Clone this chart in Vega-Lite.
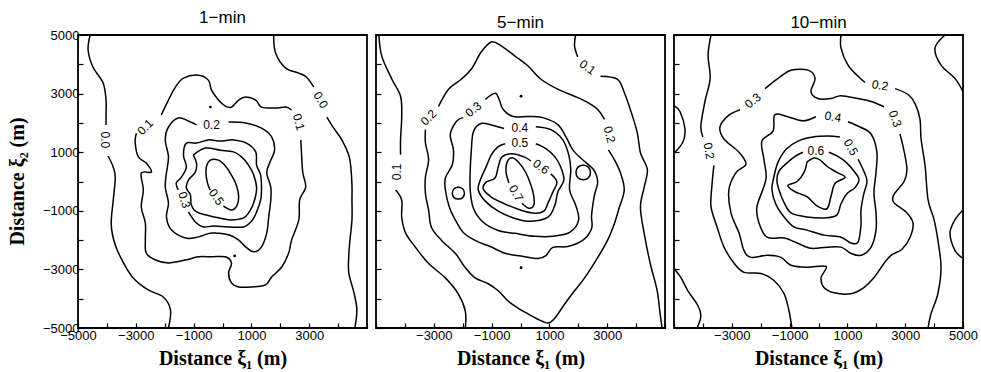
{
"$schema": "https://vega.github.io/schema/vega-lite/v6.json",
"padding": {"left": 6, "top": 8, "right": 0, "bottom": 0},
"spacing": 9,
"bounds": "flush",
"config": {
  "view": {"stroke": "black", "strokeWidth": 1.8},
  "axis": {"domain": false, "grid": false, "tickSize": -5, "tickColor": "black", "tickWidth": 1.2, "labelFont": "Liberation Sans", "labelFontSize": 13, "labelColor": "black", "labelPadding": 6, "labelFlush": false, "labelOverlap": false, "labelBound": false, "titleFont": "Liberation Serif", "titleFontSize": 20, "titleFontWeight": "bold", "titleColor": "black", "titlePadding": 6},
  "title": {"font": "Liberation Sans", "fontSize": 17, "fontWeight": "normal", "color": "black", "offset": 2}
},
"datasets": {
"lines": [
{"p":1,"id":"a","x":-4580,"y":5000},{"p":1,"id":"a","x":-4650,"y":4480},{"p":1,"id":"a","x":-4480,"y":3900},{"p":1,"id":"a","x":-4130,"y":3360},{"p":1,"id":"a","x":-4030,"y":2780},{"p":1,"id":"a","x":-4030,"y":2270},{"p":1,"id":"a","x":-4030,"y":1930},
{"p":1,"id":"b","x":-3960,"y":870},{"p":1,"id":"b","x":-3780,"y":490},{"p":1,"id":"b","x":-3710,"y":120},{"p":1,"id":"b","x":-3780,"y":-630},{"p":1,"id":"b","x":-3850,"y":-1480},{"p":1,"id":"b","x":-3710,"y":-2170},{"p":1,"id":"b","x":-3440,"y":-2750},{"p":1,"id":"b","x":-3090,"y":-3290},{"p":1,"id":"b","x":-2570,"y":-3700},{"p":1,"id":"b","x":-2050,"y":-3940},{"p":1,"id":"b","x":-1800,"y":-4380},{"p":1,"id":"b","x":-1870,"y":-5000},
{"p":1,"id":"c","x":1770,"y":5000},{"p":1,"id":"c","x":1840,"y":4380},{"p":1,"id":"c","x":2190,"y":3870},{"p":1,"id":"c","x":2640,"y":3700},{"p":1,"id":"c","x":2910,"y":3560},{"p":1,"id":"c","x":3160,"y":3220},
{"p":1,"id":"d","x":3610,"y":2200},{"p":1,"id":"d","x":3850,"y":1820},{"p":1,"id":"d","x":4130,"y":1420},{"p":1,"id":"d","x":4370,"y":900},{"p":1,"id":"d","x":4440,"y":490},{"p":1,"id":"d","x":4480,"y":-120},{"p":1,"id":"d","x":4480,"y":-630},{"p":1,"id":"d","x":4480,"y":-1310},{"p":1,"id":"d","x":4410,"y":-2000},{"p":1,"id":"d","x":4370,"y":-2510},{"p":1,"id":"d","x":4370,"y":-3120},{"p":1,"id":"d","x":4550,"y":-3800},{"p":1,"id":"d","x":4650,"y":-4380},{"p":1,"id":"d","x":4580,"y":-5000},
{"p":1,"id":"e","x":-2120,"y":2270},{"p":1,"id":"e","x":-1870,"y":2780},{"p":1,"id":"e","x":-1630,"y":3220},{"p":1,"id":"e","x":-1350,"y":3530},{"p":1,"id":"e","x":-830,"y":3630},{"p":1,"id":"e","x":-490,"y":3460},{"p":1,"id":"e","x":-380,"y":3120},{"p":1,"id":"e","x":-140,"y":2780},{"p":1,"id":"e","x":100,"y":2570},{"p":1,"id":"e","x":310,"y":2540},{"p":1,"id":"e","x":560,"y":2780},{"p":1,"id":"e","x":800,"y":2880},{"p":1,"id":"e","x":1150,"y":2780},{"p":1,"id":"e","x":1350,"y":2540},{"p":1,"id":"e","x":1840,"y":2510},{"p":1,"id":"e","x":2190,"y":2540},{"p":1,"id":"e","x":2390,"y":2440},
{"p":1,"id":"f","x":2710,"y":1420},{"p":1,"id":"f","x":2740,"y":840},{"p":1,"id":"f","x":2780,"y":290},{"p":1,"id":"f","x":2880,"y":-190},{"p":1,"id":"f","x":2670,"y":-630},{"p":1,"id":"f","x":2640,"y":-1310},{"p":1,"id":"f","x":2390,"y":-2000},{"p":1,"id":"f","x":2290,"y":-2440},{"p":1,"id":"f","x":2050,"y":-2920},{"p":1,"id":"f","x":1700,"y":-3260},{"p":1,"id":"f","x":1490,"y":-3530},{"p":1,"id":"f","x":1010,"y":-3600},{"p":1,"id":"f","x":560,"y":-3600},{"p":1,"id":"f","x":310,"y":-3460},{"p":1,"id":"f","x":210,"y":-3120},{"p":1,"id":"f","x":310,"y":-2780},{"p":1,"id":"f","x":100,"y":-2570},{"p":1,"id":"f","x":-380,"y":-2570},{"p":1,"id":"f","x":-830,"y":-2570},{"p":1,"id":"f","x":-1280,"y":-2680},{"p":1,"id":"f","x":-1870,"y":-2780},{"p":1,"id":"f","x":-2320,"y":-2680},{"p":1,"id":"f","x":-2640,"y":-2440},{"p":1,"id":"f","x":-2670,"y":-2000},{"p":1,"id":"f","x":-2670,"y":-1420},{"p":1,"id":"f","x":-2810,"y":-870},{"p":1,"id":"f","x":-2740,"y":-290},{"p":1,"id":"f","x":-2810,"y":290},{"p":1,"id":"f","x":-2460,"y":320},{"p":1,"id":"f","x":-2640,"y":630},{"p":1,"id":"f","x":-2910,"y":840},{"p":1,"id":"f","x":-3020,"y":1310},{"p":1,"id":"f","x":-2980,"y":1650},
{"p":1,"id":"g","x":210,"y":2030},{"p":1,"id":"g","x":800,"y":2000},{"p":1,"id":"g","x":1350,"y":1820},{"p":1,"id":"g","x":1700,"y":1520},{"p":1,"id":"g","x":1800,"y":1070},{"p":1,"id":"g","x":1630,"y":630},{"p":1,"id":"g","x":1530,"y":290},{"p":1,"id":"g","x":1670,"y":-190},{"p":1,"id":"g","x":1670,"y":-630},{"p":1,"id":"g","x":1600,"y":-1210},{"p":1,"id":"g","x":1530,"y":-1760},{"p":1,"id":"g","x":1350,"y":-2230},{"p":1,"id":"g","x":1080,"y":-2400},{"p":1,"id":"g","x":800,"y":-2230},{"p":1,"id":"g","x":560,"y":-2000},{"p":1,"id":"g","x":210,"y":-1820},{"p":1,"id":"g","x":-380,"y":-1760},{"p":1,"id":"g","x":-830,"y":-1890},{"p":1,"id":"g","x":-1280,"y":-1930},{"p":1,"id":"g","x":-1770,"y":-1650},{"p":1,"id":"g","x":-1940,"y":-1210},{"p":1,"id":"g","x":-1870,"y":-730},{"p":1,"id":"g","x":-1980,"y":-190},{"p":1,"id":"g","x":-1940,"y":290},{"p":1,"id":"g","x":-1870,"y":840},{"p":1,"id":"g","x":-1980,"y":1420},{"p":1,"id":"g","x":-1870,"y":1860},{"p":1,"id":"g","x":-1530,"y":2170},{"p":1,"id":"g","x":-1110,"y":2030},{"p":1,"id":"g","x":-900,"y":1930},
{"p":1,"id":"h","x":-1180,"y":-1040},{"p":1,"id":"h","x":-940,"y":-1380},{"p":1,"id":"h","x":-660,"y":-1550},{"p":1,"id":"h","x":-310,"y":-1520},{"p":1,"id":"h","x":210,"y":-1550},{"p":1,"id":"h","x":730,"y":-1550},{"p":1,"id":"h","x":1010,"y":-1350},{"p":1,"id":"h","x":1180,"y":-1040},{"p":1,"id":"h","x":1320,"y":-630},{"p":1,"id":"h","x":1350,"y":-220},{"p":1,"id":"h","x":1320,"y":220},{"p":1,"id":"h","x":1180,"y":560},{"p":1,"id":"h","x":1150,"y":1010},{"p":1,"id":"h","x":830,"y":1310},{"p":1,"id":"h","x":380,"y":1420},{"p":1,"id":"h","x":-70,"y":1380},{"p":1,"id":"h","x":-490,"y":1420},{"p":1,"id":"h","x":-900,"y":1310},{"p":1,"id":"h","x":-1250,"y":1310},{"p":1,"id":"h","x":-1350,"y":900},{"p":1,"id":"h","x":-1250,"y":490},{"p":1,"id":"h","x":-1420,"y":150},{"p":1,"id":"h","x":-1600,"y":-50},{"p":1,"id":"h","x":-1530,"y":-290},
{"p":1,"id":"i","x":-1010,"y":900},{"p":1,"id":"i","x":-590,"y":1140},{"p":1,"id":"i","x":-70,"y":1070},{"p":1,"id":"i","x":380,"y":1010},{"p":1,"id":"i","x":660,"y":840},{"p":1,"id":"i","x":900,"y":560},{"p":1,"id":"i","x":1080,"y":220},{"p":1,"id":"i","x":1180,"y":-220},{"p":1,"id":"i","x":1110,"y":-630},{"p":1,"id":"i","x":970,"y":-970},{"p":1,"id":"i","x":730,"y":-1240},{"p":1,"id":"i","x":280,"y":-1310},{"p":1,"id":"i","x":-140,"y":-1240},{"p":1,"id":"i","x":-560,"y":-1140},{"p":1,"id":"i","x":-900,"y":-1040},{"p":1,"id":"i","x":-1080,"y":-800},{"p":1,"id":"i","x":-1110,"y":-460},{"p":1,"id":"i","x":-1250,"y":-220},{"p":1,"id":"i","x":-1180,"y":50},{"p":1,"id":"i","x":-940,"y":320},{"p":1,"id":"i","x":-900,"y":630},{"p":1,"id":"i","x":-1010,"y":900},
{"p":1,"id":"j","x":30,"y":-840},{"p":1,"id":"j","x":310,"y":-970},{"p":1,"id":"j","x":490,"y":-840},{"p":1,"id":"j","x":560,"y":-530},{"p":1,"id":"j","x":490,"y":-150},{"p":1,"id":"j","x":310,"y":220},{"p":1,"id":"j","x":100,"y":530},{"p":1,"id":"j","x":-140,"y":730},{"p":1,"id":"j","x":-420,"y":730},{"p":1,"id":"j","x":-560,"y":490},{"p":1,"id":"j","x":-560,"y":150},{"p":1,"id":"j","x":-490,"y":-150},{"p":1,"id":"j","x":-420,"y":-290},

{"p":2,"id":"a","x":-4900,"y":5000},{"p":2,"id":"a","x":-4800,"y":4280},{"p":2,"id":"a","x":-4450,"y":3490},{"p":2,"id":"a","x":-4150,"y":2910},{"p":2,"id":"a","x":-4110,"y":2220},{"p":2,"id":"a","x":-4150,"y":1430},{"p":2,"id":"a","x":-4150,"y":910},
{"p":2,"id":"b","x":-4320,"y":-290},{"p":2,"id":"b","x":-4110,"y":-640},{"p":2,"id":"b","x":-4110,"y":-1220},{"p":2,"id":"b","x":-3970,"y":-1770},{"p":2,"id":"b","x":-3630,"y":-2250},{"p":2,"id":"b","x":-3180,"y":-2800},{"p":2,"id":"b","x":-2600,"y":-3290},{"p":2,"id":"b","x":-2150,"y":-3840},{"p":2,"id":"b","x":-1910,"y":-4420},{"p":2,"id":"b","x":-1910,"y":-5000},
{"p":2,"id":"c","x":1910,"y":5000},{"p":2,"id":"c","x":1870,"y":4630},{"p":2,"id":"c","x":1980,"y":4250},
{"p":2,"id":"d","x":2770,"y":3590},{"p":2,"id":"d","x":3350,"y":3490},{"p":2,"id":"d","x":3590,"y":3040},{"p":2,"id":"d","x":3800,"y":2460},{"p":2,"id":"d","x":4040,"y":1670},{"p":2,"id":"d","x":4150,"y":980},{"p":2,"id":"d","x":4390,"y":400},{"p":2,"id":"d","x":4280,"y":-190},{"p":2,"id":"d","x":4150,"y":-880},{"p":2,"id":"d","x":4280,"y":-1770},{"p":2,"id":"d","x":4490,"y":-2800},{"p":2,"id":"d","x":4730,"y":-3730},{"p":2,"id":"d","x":4830,"y":-4520},{"p":2,"id":"d","x":4900,"y":-5000},
{"p":2,"id":"e","x":-2840,"y":2560},{"p":2,"id":"e","x":-2490,"y":3150},{"p":2,"id":"e","x":-2050,"y":3490},{"p":2,"id":"e","x":-1700,"y":3840},{"p":2,"id":"e","x":-1360,"y":4420},{"p":2,"id":"e","x":-1010,"y":4760},{"p":2,"id":"e","x":-670,"y":4630},{"p":2,"id":"e","x":-190,"y":4280},{"p":2,"id":"e","x":260,"y":3940},{"p":2,"id":"e","x":710,"y":3490},{"p":2,"id":"e","x":1290,"y":3150},{"p":2,"id":"e","x":1870,"y":2910},{"p":2,"id":"e","x":2320,"y":2700},{"p":2,"id":"e","x":2670,"y":2460},{"p":2,"id":"e","x":2910,"y":2120},
{"p":2,"id":"f","x":3040,"y":1080},{"p":2,"id":"f","x":3250,"y":740},{"p":2,"id":"f","x":3460,"y":290},{"p":2,"id":"f","x":3590,"y":-290},{"p":2,"id":"f","x":3420,"y":-880},{"p":2,"id":"f","x":3250,"y":-1430},{"p":2,"id":"f","x":3010,"y":-2010},{"p":2,"id":"f","x":2670,"y":-2600},{"p":2,"id":"f","x":2220,"y":-3290},{"p":2,"id":"f","x":1870,"y":-3730},{"p":2,"id":"f","x":1530,"y":-4180},{"p":2,"id":"f","x":1190,"y":-4660},{"p":2,"id":"f","x":950,"y":-4830},{"p":2,"id":"f","x":600,"y":-4700},{"p":2,"id":"f","x":260,"y":-4520},{"p":2,"id":"f","x":-90,"y":-4320},{"p":2,"id":"f","x":-430,"y":-4080},{"p":2,"id":"f","x":-770,"y":-3730},{"p":2,"id":"f","x":-1120,"y":-3490},{"p":2,"id":"f","x":-1570,"y":-3290},{"p":2,"id":"f","x":-1910,"y":-2940},{"p":2,"id":"f","x":-2250,"y":-2460},{"p":2,"id":"f","x":-2730,"y":-2010},{"p":2,"id":"f","x":-3080,"y":-1570},{"p":2,"id":"f","x":-3180,"y":-980},{"p":2,"id":"f","x":-3290,"y":-400},{"p":2,"id":"f","x":-3290,"y":150},{"p":2,"id":"f","x":-3180,"y":740},{"p":2,"id":"f","x":-3290,"y":1320},{"p":2,"id":"f","x":-3290,"y":1770},
{"p":2,"id":"g","x":-1220,"y":2800},{"p":2,"id":"g","x":-880,"y":3010},{"p":2,"id":"g","x":-740,"y":2800},{"p":2,"id":"g","x":-600,"y":2460},{"p":2,"id":"g","x":-260,"y":2220},{"p":2,"id":"g","x":260,"y":2220},{"p":2,"id":"g","x":770,"y":2180},{"p":2,"id":"g","x":1290,"y":1940},{"p":2,"id":"g","x":1570,"y":1530},{"p":2,"id":"g","x":1810,"y":1080},{"p":2,"id":"g","x":2150,"y":740},{"p":2,"id":"g","x":2530,"y":400},{"p":2,"id":"g","x":2670,"y":-20},{"p":2,"id":"g","x":2560,"y":-460},{"p":2,"id":"g","x":2460,"y":-1150},{"p":2,"id":"g","x":2460,"y":-1600},{"p":2,"id":"g","x":2150,"y":-2010},{"p":2,"id":"g","x":1630,"y":-2220},{"p":2,"id":"g","x":1120,"y":-2250},{"p":2,"id":"g","x":880,"y":-2530},{"p":2,"id":"g","x":600,"y":-2630},{"p":2,"id":"g","x":90,"y":-2560},{"p":2,"id":"g","x":-500,"y":-2460},{"p":2,"id":"g","x":-1050,"y":-2220},{"p":2,"id":"g","x":-1570,"y":-2010},{"p":2,"id":"g","x":-1980,"y":-1740},{"p":2,"id":"g","x":-2250,"y":-1320},{"p":2,"id":"g","x":-2460,"y":-880},{"p":2,"id":"g","x":-2600,"y":-290},{"p":2,"id":"g","x":-2600,"y":120},{"p":2,"id":"g","x":-2360,"y":570},{"p":2,"id":"g","x":-2320,"y":1080},{"p":2,"id":"g","x":-2430,"y":1600},{"p":2,"id":"g","x":-2220,"y":2050},{"p":2,"id":"g","x":-1980,"y":2180},
{"p":2,"id":"h","x":530,"y":1870},{"p":2,"id":"h","x":1050,"y":1770},{"p":2,"id":"h","x":1460,"y":1430},{"p":2,"id":"h","x":1670,"y":910},{"p":2,"id":"h","x":1740,"y":400},{"p":2,"id":"h","x":1700,"y":-290},{"p":2,"id":"h","x":1910,"y":-810},{"p":2,"id":"h","x":2010,"y":-1320},{"p":2,"id":"h","x":1700,"y":-1740},{"p":2,"id":"h","x":1120,"y":-1870},{"p":2,"id":"h","x":500,"y":-1870},{"p":2,"id":"h","x":-190,"y":-1770},{"p":2,"id":"h","x":-770,"y":-1670},{"p":2,"id":"h","x":-1290,"y":-1390},{"p":2,"id":"h","x":-1630,"y":-910},{"p":2,"id":"h","x":-1740,"y":-290},{"p":2,"id":"h","x":-1740,"y":400},{"p":2,"id":"h","x":-1700,"y":1080},{"p":2,"id":"h","x":-1630,"y":1700},{"p":2,"id":"h","x":-1360,"y":1980},{"p":2,"id":"h","x":-950,"y":1910},{"p":2,"id":"h","x":-570,"y":1810},
{"p":2,"id":"i","x":530,"y":1290},{"p":2,"id":"i","x":880,"y":1120},{"p":2,"id":"i","x":1190,"y":840},{"p":2,"id":"i","x":1390,"y":500},{"p":2,"id":"i","x":1500,"y":50},{"p":2,"id":"i","x":1290,"y":-360},{"p":2,"id":"i","x":1190,"y":-810},{"p":2,"id":"i","x":950,"y":-1220},{"p":2,"id":"i","x":360,"y":-1360},{"p":2,"id":"i","x":-190,"y":-1260},{"p":2,"id":"i","x":-770,"y":-1010},{"p":2,"id":"i","x":-1220,"y":-670},{"p":2,"id":"i","x":-1460,"y":-290},{"p":2,"id":"i","x":-1390,"y":50},{"p":2,"id":"i","x":-1190,"y":500},{"p":2,"id":"i","x":-1010,"y":910},{"p":2,"id":"i","x":-770,"y":1190},{"p":2,"id":"i","x":-530,"y":1290},
{"p":2,"id":"j","x":1050,"y":260},{"p":2,"id":"j","x":1260,"y":-20},{"p":2,"id":"j","x":1120,"y":-360},{"p":2,"id":"j","x":950,"y":-740},{"p":2,"id":"j","x":810,"y":-1010},{"p":2,"id":"j","x":500,"y":-1080},{"p":2,"id":"j","x":20,"y":-980},{"p":2,"id":"j","x":-530,"y":-770},{"p":2,"id":"j","x":-1010,"y":-530},{"p":2,"id":"j","x":-1290,"y":-260},{"p":2,"id":"j","x":-1190,"y":-20},{"p":2,"id":"j","x":-880,"y":120},{"p":2,"id":"j","x":-770,"y":500},{"p":2,"id":"j","x":-640,"y":840},{"p":2,"id":"j","x":-290,"y":950},{"p":2,"id":"j","x":120,"y":840},{"p":2,"id":"j","x":360,"y":700},
{"p":2,"id":"k","x":50,"y":-740},{"p":2,"id":"k","x":290,"y":-910},{"p":2,"id":"k","x":460,"y":-810},{"p":2,"id":"k","x":460,"y":-500},{"p":2,"id":"k","x":360,"y":-120},{"p":2,"id":"k","x":190,"y":290},{"p":2,"id":"k","x":-50,"y":640},{"p":2,"id":"k","x":-290,"y":810},{"p":2,"id":"k","x":-460,"y":670},{"p":2,"id":"k","x":-500,"y":330},{"p":2,"id":"k","x":-400,"y":-50},
{"p":2,"id":"l","x":-2150,"y":-190},{"p":2,"id":"l","x":-2000,"y":-250},{"p":2,"id":"l","x":-1940,"y":-400},{"p":2,"id":"l","x":-2000,"y":-550},{"p":2,"id":"l","x":-2150,"y":-600},{"p":2,"id":"l","x":-2300,"y":-550},{"p":2,"id":"l","x":-2360,"y":-400},{"p":2,"id":"l","x":-2300,"y":-250},{"p":2,"id":"l","x":-2150,"y":-190},
{"p":2,"id":"m","x":2170,"y":560},{"p":2,"id":"m","x":2350,"y":490},{"p":2,"id":"m","x":2420,"y":310},{"p":2,"id":"m","x":2350,"y":130},{"p":2,"id":"m","x":2170,"y":60},{"p":2,"id":"m","x":1990,"y":130},{"p":2,"id":"m","x":1920,"y":310},{"p":2,"id":"m","x":1990,"y":490},{"p":2,"id":"m","x":2170,"y":560},

{"p":3,"id":"a","x":-3720,"y":5000},{"p":3,"id":"a","x":-3820,"y":4310},{"p":3,"id":"a","x":-3750,"y":3520},{"p":3,"id":"a","x":-3930,"y":2730},{"p":3,"id":"a","x":-4070,"y":1900},{"p":3,"id":"a","x":-4000,"y":1520},
{"p":3,"id":"b","x":-3620,"y":550},{"p":3,"id":"b","x":-3690,"y":-170},{"p":3,"id":"b","x":-3720,"y":-860},{"p":3,"id":"b","x":-3510,"y":-1550},{"p":3,"id":"b","x":-3270,"y":-2240},{"p":3,"id":"b","x":-2920,"y":-2790},{"p":3,"id":"b","x":-2580,"y":-3100},{"p":3,"id":"b","x":-1990,"y":-3140},{"p":3,"id":"b","x":-1540,"y":-3380},{"p":3,"id":"b","x":-1190,"y":-3830},{"p":3,"id":"b","x":-1020,"y":-4420},{"p":3,"id":"b","x":-920,"y":-5000},
{"p":3,"id":"c","x":780,"y":5000},{"p":3,"id":"c","x":780,"y":4550},{"p":3,"id":"c","x":1020,"y":3970},{"p":3,"id":"c","x":1370,"y":3590},{"p":3,"id":"c","x":1610,"y":3380},
{"p":3,"id":"d","x":2650,"y":3170},{"p":3,"id":"d","x":3100,"y":2970},{"p":3,"id":"d","x":3340,"y":2660},{"p":3,"id":"d","x":3510,"y":2140},{"p":3,"id":"d","x":3550,"y":1450},{"p":3,"id":"d","x":3690,"y":520},{"p":3,"id":"d","x":3790,"y":-620},{"p":3,"id":"d","x":4000,"y":-1310},{"p":3,"id":"d","x":4130,"y":-2000},{"p":3,"id":"d","x":4240,"y":-2930},{"p":3,"id":"d","x":4130,"y":-3830},{"p":3,"id":"d","x":3890,"y":-4520},{"p":3,"id":"d","x":3790,"y":-5000},
{"p":3,"id":"e","x":4380,"y":5000},{"p":3,"id":"e","x":4030,"y":4550},{"p":3,"id":"e","x":4240,"y":3970},{"p":3,"id":"e","x":4720,"y":3520},{"p":3,"id":"e","x":5000,"y":3070},
{"p":3,"id":"f","x":5000,"y":-970},{"p":3,"id":"f","x":4720,"y":-1310},{"p":3,"id":"f","x":4550,"y":-1760},{"p":3,"id":"f","x":4720,"y":-2350},{"p":3,"id":"f","x":5000,"y":-2620},
{"p":3,"id":"g","x":-5000,"y":2590},{"p":3,"id":"g","x":-4790,"y":2380},{"p":3,"id":"g","x":-4620,"y":1790},{"p":3,"id":"g","x":-4690,"y":1350},{"p":3,"id":"g","x":-4970,"y":1000},
{"p":3,"id":"h","x":-5000,"y":-2970},{"p":3,"id":"h","x":-4760,"y":-3280},{"p":3,"id":"h","x":-4520,"y":-3730},{"p":3,"id":"h","x":-4170,"y":-4240},{"p":3,"id":"h","x":-4070,"y":-4590},{"p":3,"id":"h","x":-4200,"y":-5000},
{"p":3,"id":"i","x":-1850,"y":3170},{"p":3,"id":"i","x":-1400,"y":3520},{"p":3,"id":"i","x":-950,"y":3800},{"p":3,"id":"i","x":-360,"y":3800},{"p":3,"id":"i","x":-120,"y":3520},{"p":3,"id":"i","x":-260,"y":3070},{"p":3,"id":"i","x":-20,"y":2830},{"p":3,"id":"i","x":430,"y":2830},{"p":3,"id":"i","x":780,"y":2930},{"p":3,"id":"i","x":1370,"y":2830},{"p":3,"id":"i","x":1820,"y":2730},{"p":3,"id":"i","x":2270,"y":2550},
{"p":3,"id":"j","x":2820,"y":1620},{"p":3,"id":"j","x":2960,"y":1040},{"p":3,"id":"j","x":3060,"y":410},{"p":3,"id":"j","x":2960,"y":0},{"p":3,"id":"j","x":2610,"y":-450},{"p":3,"id":"j","x":2610,"y":-720},{"p":3,"id":"j","x":3030,"y":-1040},{"p":3,"id":"j","x":3270,"y":-1410},{"p":3,"id":"j","x":3170,"y":-1900},{"p":3,"id":"j","x":2890,"y":-2310},{"p":3,"id":"j","x":2510,"y":-2520},{"p":3,"id":"j","x":2270,"y":-2790},{"p":3,"id":"j","x":1920,"y":-3280},{"p":3,"id":"j","x":1570,"y":-3620},{"p":3,"id":"j","x":1120,"y":-3830},{"p":3,"id":"j","x":540,"y":-3800},{"p":3,"id":"j","x":190,"y":-3620},{"p":3,"id":"j","x":90,"y":-3280},{"p":3,"id":"j","x":260,"y":-2900},{"p":3,"id":"j","x":-400,"y":-2930},{"p":3,"id":"j","x":-950,"y":-2860},{"p":3,"id":"j","x":-1300,"y":-2590},{"p":3,"id":"j","x":-1780,"y":-2520},{"p":3,"id":"j","x":-2340,"y":-2590},{"p":3,"id":"j","x":-2580,"y":-2350},{"p":3,"id":"j","x":-2750,"y":-1760},{"p":3,"id":"j","x":-3030,"y":-1070},{"p":3,"id":"j","x":-3100,"y":-280},{"p":3,"id":"j","x":-2850,"y":310},{"p":3,"id":"j","x":-2510,"y":590},{"p":3,"id":"j","x":-2750,"y":1000},{"p":3,"id":"j","x":-3270,"y":1450},{"p":3,"id":"j","x":-3410,"y":1860},{"p":3,"id":"j","x":-3130,"y":2240},{"p":3,"id":"j","x":-2720,"y":2450},
{"p":3,"id":"k","x":1020,"y":2040},{"p":3,"id":"k","x":1440,"y":1860},{"p":3,"id":"k","x":1820,"y":1620},{"p":3,"id":"k","x":2020,"y":1000},{"p":3,"id":"k","x":1990,"y":310},{"p":3,"id":"k","x":1920,"y":-380},{"p":3,"id":"k","x":1990,"y":-1070},{"p":3,"id":"k","x":1990,"y":-1660},{"p":3,"id":"k","x":1820,"y":-2240},{"p":3,"id":"k","x":1470,"y":-2520},{"p":3,"id":"k","x":1120,"y":-2450},{"p":3,"id":"k","x":780,"y":-2240},{"p":3,"id":"k","x":290,"y":-2240},{"p":3,"id":"k","x":-260,"y":-2280},{"p":3,"id":"k","x":-740,"y":-2100},{"p":3,"id":"k","x":-1190,"y":-1930},{"p":3,"id":"k","x":-1780,"y":-1900},{"p":3,"id":"k","x":-2060,"y":-1410},{"p":3,"id":"k","x":-2130,"y":-860},{"p":3,"id":"k","x":-1820,"y":70},{"p":3,"id":"k","x":-1890,"y":760},{"p":3,"id":"k","x":-1960,"y":1380},{"p":3,"id":"k","x":-1570,"y":1730},{"p":3,"id":"k","x":-1510,"y":2280},{"p":3,"id":"k","x":-1060,"y":2210},{"p":3,"id":"k","x":-540,"y":2070},{"p":3,"id":"k","x":-90,"y":2210},
{"p":3,"id":"l","x":1370,"y":760},{"p":3,"id":"l","x":1570,"y":350},{"p":3,"id":"l","x":1680,"y":0},{"p":3,"id":"l","x":1570,"y":-410},{"p":3,"id":"l","x":1470,"y":-970},{"p":3,"id":"l","x":1470,"y":-1480},{"p":3,"id":"l","x":1370,"y":-2070},{"p":3,"id":"l","x":1120,"y":-2100},{"p":3,"id":"l","x":780,"y":-1900},{"p":3,"id":"l","x":190,"y":-1830},{"p":3,"id":"l","x":-400,"y":-1660},{"p":3,"id":"l","x":-850,"y":-1550},{"p":3,"id":"l","x":-1190,"y":-1210},{"p":3,"id":"l","x":-1470,"y":-790},{"p":3,"id":"l","x":-1610,"y":-280},{"p":3,"id":"l","x":-1540,"y":170},{"p":3,"id":"l","x":-1400,"y":660},{"p":3,"id":"l","x":-1120,"y":1100},{"p":3,"id":"l","x":-710,"y":1380},{"p":3,"id":"l","x":-190,"y":1520},{"p":3,"id":"l","x":330,"y":1550},{"p":3,"id":"l","x":740,"y":1520},
{"p":3,"id":"m","x":360,"y":1000},{"p":3,"id":"m","x":670,"y":860},{"p":3,"id":"m","x":950,"y":660},{"p":3,"id":"m","x":1230,"y":350},{"p":3,"id":"m","x":1400,"y":70},{"p":3,"id":"m","x":1260,"y":-210},{"p":3,"id":"m","x":990,"y":-410},{"p":3,"id":"m","x":780,"y":-760},{"p":3,"id":"m","x":640,"y":-1140},{"p":3,"id":"m","x":290,"y":-1240},{"p":3,"id":"m","x":-400,"y":-1210},{"p":3,"id":"m","x":-950,"y":-1070},{"p":3,"id":"m","x":-1190,"y":-720},{"p":3,"id":"m","x":-1370,"y":-280},{"p":3,"id":"m","x":-1440,"y":30},{"p":3,"id":"m","x":-1370,"y":350},{"p":3,"id":"m","x":-1060,"y":660},{"p":3,"id":"m","x":-810,"y":860},{"p":3,"id":"m","x":-540,"y":1000},
{"p":3,"id":"n","x":-400,"y":660},{"p":3,"id":"n","x":-160,"y":800},{"p":3,"id":"n","x":50,"y":740},{"p":3,"id":"n","x":290,"y":520},{"p":3,"id":"n","x":640,"y":310},{"p":3,"id":"n","x":920,"y":140},{"p":3,"id":"n","x":570,"y":-70},{"p":3,"id":"n","x":430,"y":-520},{"p":3,"id":"n","x":290,"y":-930},{"p":3,"id":"n","x":-50,"y":-830},{"p":3,"id":"n","x":-400,"y":-520},{"p":3,"id":"n","x":-810,"y":-350},{"p":3,"id":"n","x":-1060,"y":-140},{"p":3,"id":"n","x":-740,"y":0},{"p":3,"id":"n","x":-500,"y":310},{"p":3,"id":"n","x":-400,"y":660}
],
"labels": [
{"p":1,"x":-4060,"y":1420,"t":"0.0","a":90},{"p":1,"x":3400,"y":2780,"t":"0.0","a":60},{"p":1,"x":-2670,"y":1860,"t":"0.1","a":-45},{"p":1,"x":2640,"y":2030,"t":"0.1","a":75},{"p":1,"x":-380,"y":1930,"t":"0.2","a":0},{"p":1,"x":-1320,"y":-630,"t":"0.3","a":75},{"p":1,"x":-210,"y":-530,"t":"0.5","a":55},
{"p":2,"x":-4280,"y":330,"t":"0.1","a":-90},{"p":2,"x":2320,"y":3900,"t":"0.1","a":35},{"p":2,"x":-3180,"y":2180,"t":"0.2","a":-45},{"p":2,"x":3080,"y":1600,"t":"0.2","a":75},{"p":2,"x":-1630,"y":2460,"t":"0.3","a":-40},{"p":2,"x":-20,"y":1840,"t":"0.4","a":0},{"p":2,"x":-20,"y":1320,"t":"0.5","a":0},{"p":2,"x":710,"y":500,"t":"0.6","a":35},{"p":2,"x":-150,"y":-400,"t":"0.7","a":60},
{"p":3,"x":-3790,"y":1040,"t":"0.2","a":80},{"p":3,"x":2130,"y":3280,"t":"0.2","a":10},{"p":3,"x":-2270,"y":2760,"t":"0.3","a":-40},{"p":3,"x":2650,"y":2140,"t":"0.3","a":70},{"p":3,"x":500,"y":2210,"t":"0.4","a":10},{"p":3,"x":1120,"y":1170,"t":"0.5","a":60},{"p":3,"x":-90,"y":1040,"t":"0.6","a":0}
],
"dots": [
{"p":1,"x":-420,"y":2540},{"p":1,"x":420,"y":-2540},{"p":2,"x":20,"y":2910},{"p":2,"x":20,"y":-2940}
]
},
"hconcat": [
{
 "width": 289, "height": 293, "title": "1−min",
 "encoding": {
  "x": {"field": "x", "type": "quantitative", "scale": {"domain": [-5000, 5000], "nice": false, "zero": false}, "axis": {"values": [-5000,-4000,-3000,-2000,-1000,0,1000,2000,3000,4000,5000], "format": "d", "labelExpr": "(datum.value % 2000 != 0 && datum.value < 5000) ? datum.label : ''", "title": "Distance ξ₁ (m)"}},
  "y": {"field": "y", "type": "quantitative", "scale": {"domain": [-5000, 5000], "nice": false, "zero": false}, "axis": {"values": [-5000,-4000,-3000,-2000,-1000,0,1000,2000,3000,4000,5000], "format": "d", "labelExpr": "datum.value % 2000 != 0 ? datum.label : ''", "labelPadding": 4, "title": "Distance ξ₂ (m)", "titleY": 146, "titlePadding": 15}}
 },
 "layer": [
  {"data": {"name": "lines"}, "transform": [{"filter": "datum.p == 1"}], "mark": {"type": "line", "color": "black", "strokeWidth": 1.5, "interpolate": "cardinal", "clip": true}, "encoding": {"detail": {"field": "id"}, "order": {"value": null}}},
  {"data": {"name": "labels"}, "transform": [{"filter": "datum.p == 1"}], "mark": {"type": "text", "font": "Liberation Sans", "fontSize": 12, "color": "black", "align": "center", "baseline": "middle"}, "encoding": {"text": {"field": "t"}, "angle": {"field": "a", "type": "quantitative", "scale": null}}},
  {"data": {"name": "dots"}, "transform": [{"filter": "datum.p == 1"}], "mark": {"type": "point", "filled": true, "color": "black", "size": 8, "opacity": 1}, "encoding": {}}
 ]
},
{
 "width": 289, "height": 293, "title": "5−min",
 "encoding": {
  "x": {"field": "x", "type": "quantitative", "scale": {"domain": [-5000, 5000], "nice": false, "zero": false}, "axis": {"values": [-5000,-4000,-3000,-2000,-1000,0,1000,2000,3000,4000,5000], "format": "d", "labelExpr": "(datum.value % 2000 != 0 && abs(datum.value) < 5000) ? datum.label : ''", "title": "Distance ξ₁ (m)"}},
  "y": {"field": "y", "type": "quantitative", "scale": {"domain": [-5000, 5000], "nice": false, "zero": false}, "axis": {"values": [-5000,-4000,-3000,-2000,-1000,0,1000,2000,3000,4000,5000], "labels": false, "title": null, "minExtent": 0, "maxExtent": 0}}
 },
 "layer": [
  {"data": {"name": "lines"}, "transform": [{"filter": "datum.p == 2"}], "mark": {"type": "line", "color": "black", "strokeWidth": 1.5, "interpolate": "cardinal", "clip": true}, "encoding": {"detail": {"field": "id"}, "order": {"value": null}}},
  {"data": {"name": "labels"}, "transform": [{"filter": "datum.p == 2"}], "mark": {"type": "text", "font": "Liberation Sans", "fontSize": 12, "color": "black", "align": "center", "baseline": "middle"}, "encoding": {"text": {"field": "t"}, "angle": {"field": "a", "type": "quantitative", "scale": null}}},
  {"data": {"name": "dots"}, "transform": [{"filter": "datum.p == 2"}], "mark": {"type": "point", "filled": true, "color": "black", "size": 8, "opacity": 1}, "encoding": {}}
 ]
},
{
 "width": 289, "height": 293, "title": "10−min",
 "encoding": {
  "x": {"field": "x", "type": "quantitative", "scale": {"domain": [-5000, 5000], "nice": false, "zero": false}, "axis": {"values": [-5000,-4000,-3000,-2000,-1000,0,1000,2000,3000,4000,5000], "format": "d", "labelExpr": "(datum.value % 2000 != 0 && datum.value > -5000) ? datum.label : ''", "title": "Distance ξ₁ (m)"}},
  "y": {"field": "y", "type": "quantitative", "scale": {"domain": [-5000, 5000], "nice": false, "zero": false}, "axis": {"values": [-5000,-4000,-3000,-2000,-1000,0,1000,2000,3000,4000,5000], "labels": false, "title": null, "minExtent": 0, "maxExtent": 0}}
 },
 "layer": [
  {"data": {"name": "lines"}, "transform": [{"filter": "datum.p == 3"}], "mark": {"type": "line", "color": "black", "strokeWidth": 1.5, "interpolate": "cardinal", "clip": true}, "encoding": {"detail": {"field": "id"}, "order": {"value": null}}},
  {"data": {"name": "labels"}, "transform": [{"filter": "datum.p == 3"}], "mark": {"type": "text", "font": "Liberation Sans", "fontSize": 12, "color": "black", "align": "center", "baseline": "middle"}, "encoding": {"text": {"field": "t"}, "angle": {"field": "a", "type": "quantitative", "scale": null}}}
 ]
}
]
}
